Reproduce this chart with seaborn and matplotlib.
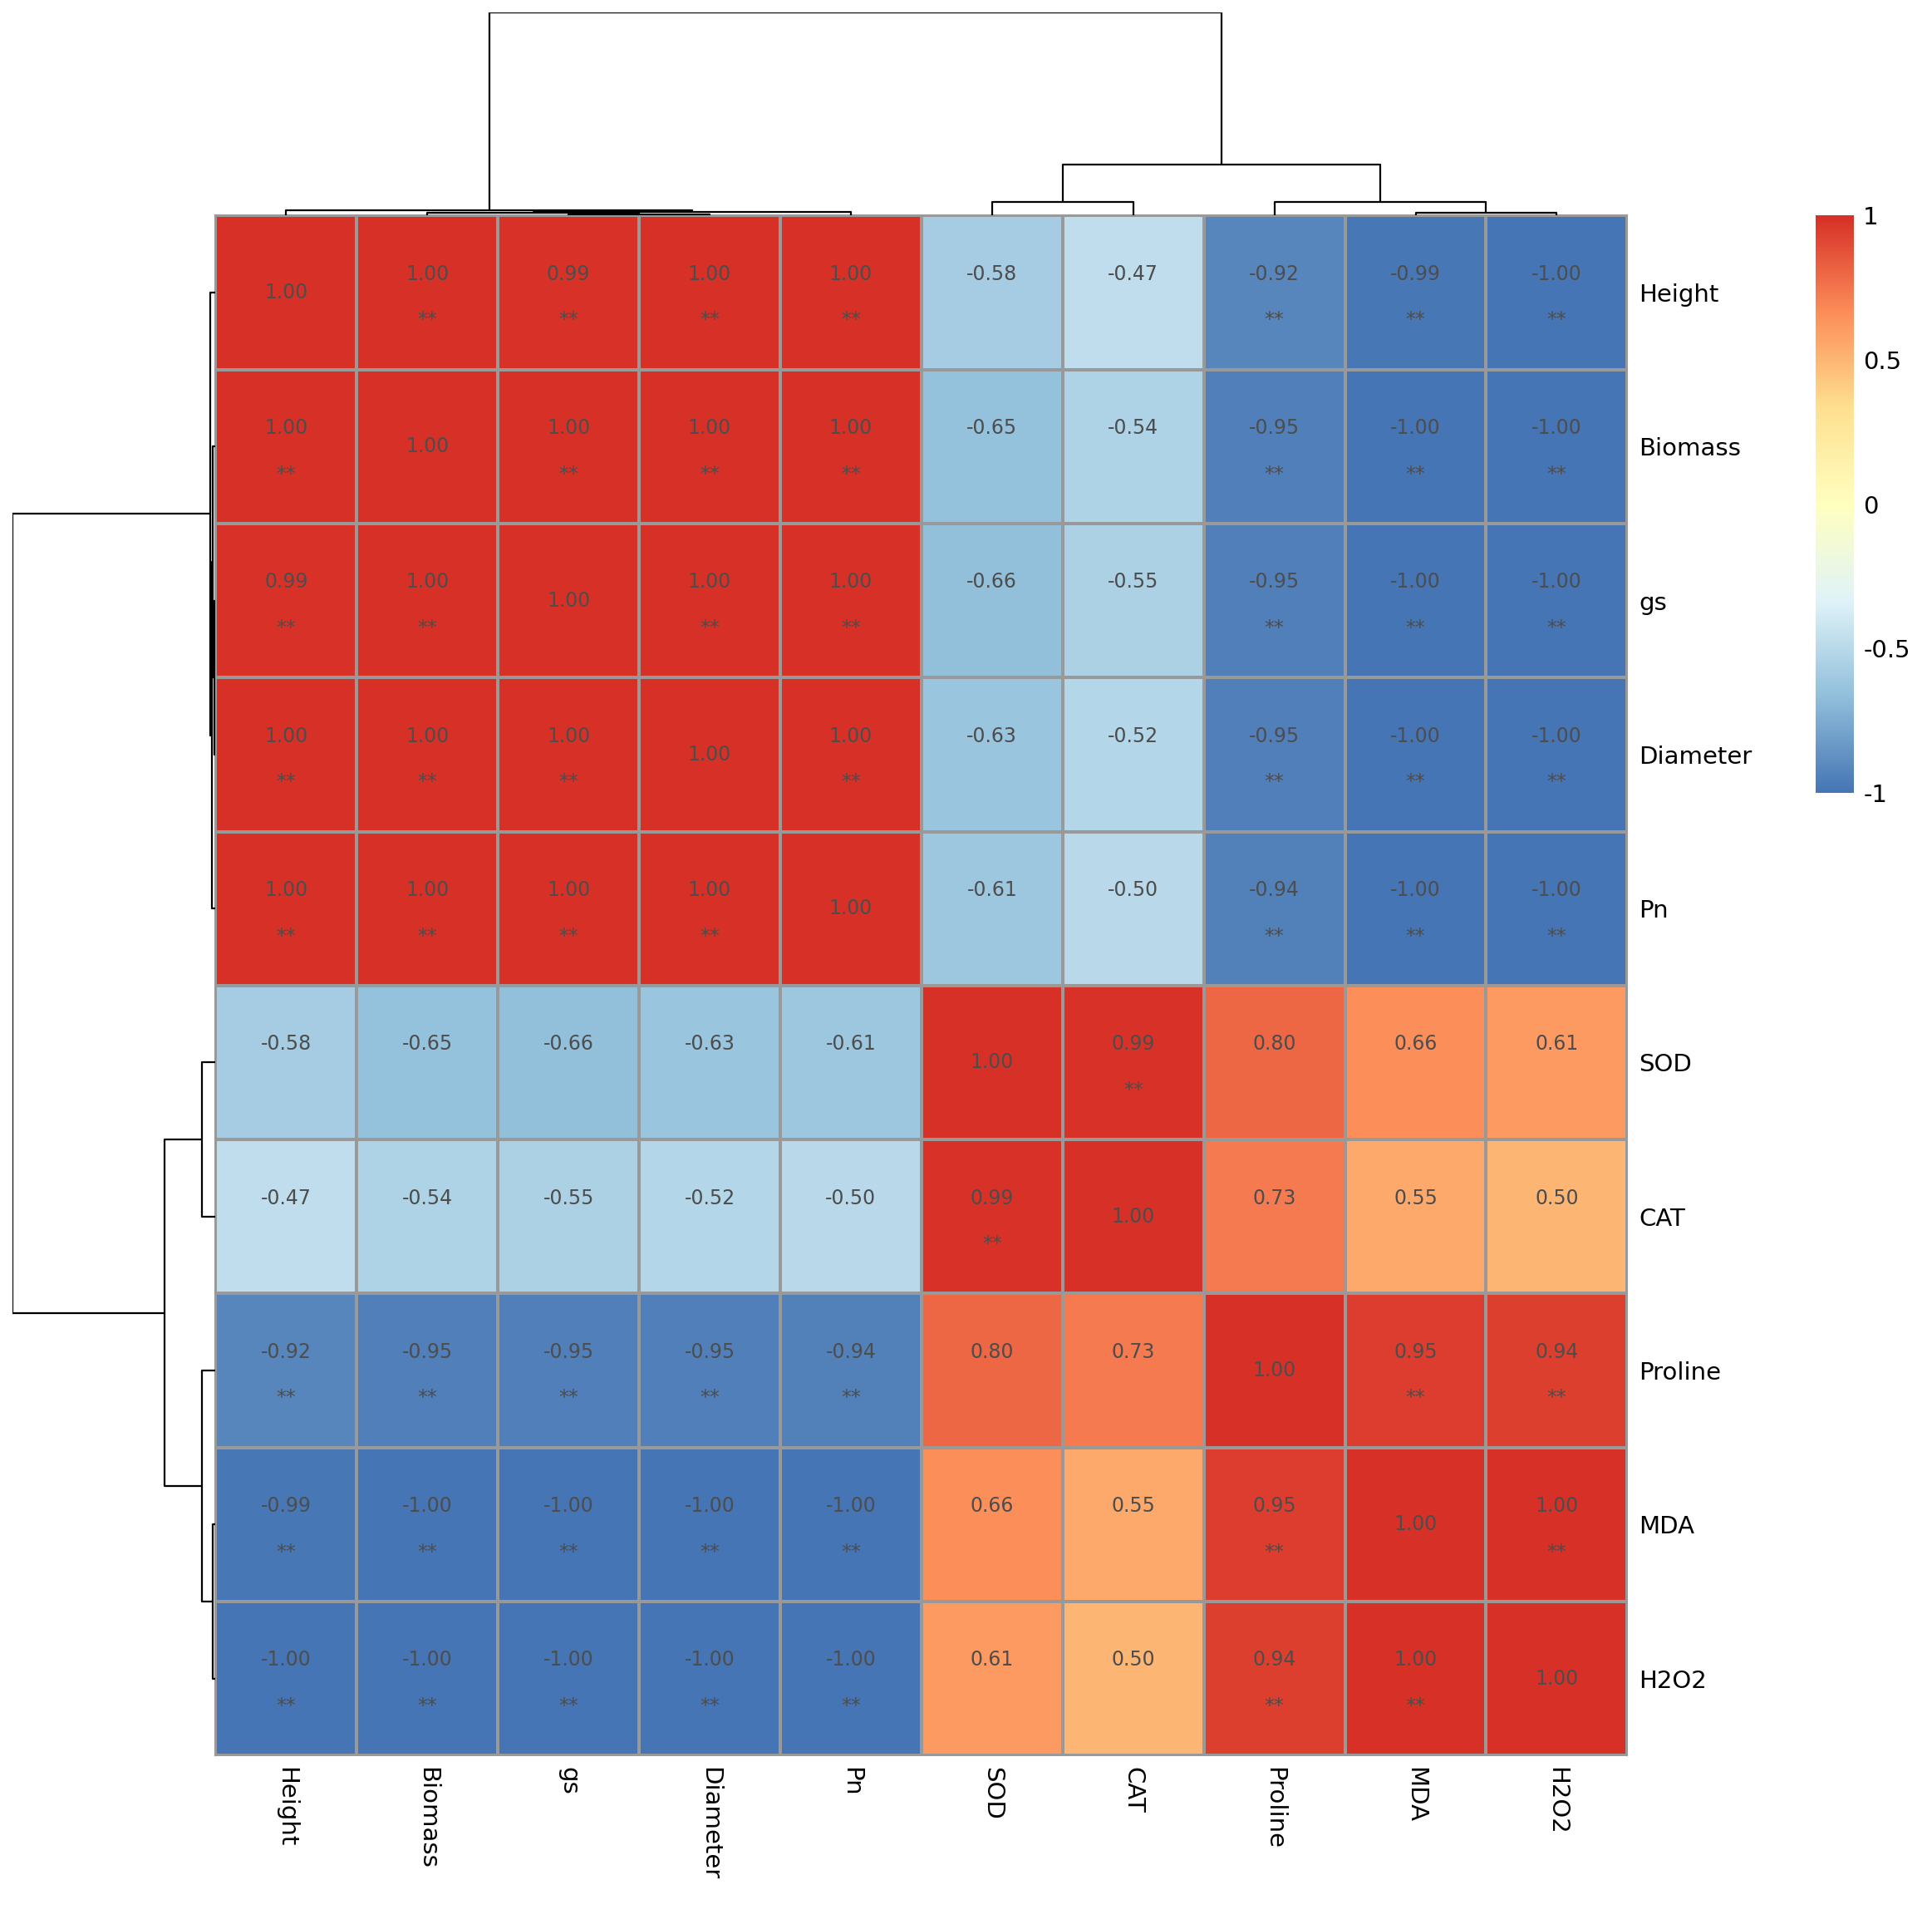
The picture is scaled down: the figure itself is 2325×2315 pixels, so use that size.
import numpy as np
import pandas as pd
import seaborn as sns
import matplotlib
matplotlib.use("Agg")
import matplotlib.pyplot as plt
from matplotlib.colors import LinearSegmentedColormap

labels = ["Height", "Biomass", "gs", "Diameter", "Pn", "SOD", "CAT", "Proline", "MDA", "H2O2"]
r_height   = [1.00, 1.00, 0.99, 1.00, 1.00, -0.58, -0.47, -0.92, -0.99, -1.00]
r_biomass  = [1.00, 1.00, 1.00, 1.00, 1.00, -0.65, -0.54, -0.95, -1.00, -1.00]
r_gs       = [0.99, 1.00, 1.00, 1.00, 1.00, -0.66, -0.55, -0.95, -1.00, -1.00]
r_diameter = [1.00, 1.00, 1.00, 1.00, 1.00, -0.63, -0.52, -0.95, -1.00, -1.00]
r_pn       = [1.00, 1.00, 1.00, 1.00, 1.00, -0.61, -0.50, -0.94, -1.00, -1.00]
r_sod      = [-0.58, -0.65, -0.66, -0.63, -0.61, 1.00, 0.99, 0.80, 0.66, 0.61]
r_cat      = [-0.47, -0.54, -0.55, -0.52, -0.50, 0.99, 1.00, 0.73, 0.55, 0.50]
r_proline  = [-0.92, -0.95, -0.95, -0.95, -0.94, 0.80, 0.73, 1.00, 0.95, 0.94]
r_mda      = [-0.99, -1.00, -1.00, -1.00, -1.00, 0.66, 0.55, 0.95, 1.00, 1.00]
r_h2o2     = [-1.00, -1.00, -1.00, -1.00, -1.00, 0.61, 0.50, 0.94, 1.00, 1.00]
# significance: '**' where marked in the reference
sig_threshold = 0.9
# dendrogram merges (left, right, height); indices >= 10 are earlier merges
merges = [(2, 3, 1), (1, 10, 2), (11, 4, 3), (0, 12, 4), (8, 9, 2),
          (7, 14, 11), (5, 6, 11), (16, 15, 41), (13, 17, 164)]
cbar_ticks = [-1, -0.5, 0, 0.5, 1]
cbar_ticklabels = ["-1", "-0.5", "0", "0.5", "1"]

mat = pd.DataFrame([r_height, r_biomass, r_gs, r_diameter, r_pn, r_sod, r_cat,
                    r_proline, r_mda, r_h2o2], index=labels, columns=labels)
n = len(labels)

cmap = LinearSegmentedColormap.from_list(
    "rdylbu", ["#4575B4", "#91BFDB", "#E0F3F8", "#FFFFBF", "#FEE090", "#FC8D59", "#D73027"])

W, H = 2325, 2315
fig = plt.figure(figsize=(W / 100, H / 100), dpi=100)
sx, sy = 1560.0, 1553.0
def fx(x): return x / sx
def fy(y): return 1 - y / sy

hl, hr, ht, hb = 174, 1314, 174, 1417
ax = fig.add_axes([fx(hl), fy(hb), fx(hr - hl), fy(ht) - fy(hb)])
cax = fig.add_axes([fx(1466), fy(640), fx(31), fy(174) - fy(640)])
sns.heatmap(mat, ax=ax, cmap=cmap, vmin=-1, vmax=1, linewidths=1.5, linecolor="#999999",
            cbar_ax=cax, cbar_kws={"ticks": cbar_ticks})
cax.set_yticklabels(cbar_ticklabels)
cax.tick_params(length=0, labelsize=21, pad=8)
for s in cax.spines.values():
    s.set_visible(False)
for s in ax.spines.values():
    s.set_visible(True); s.set_color("#999999"); s.set_linewidth(1.5)

ax.yaxis.tick_right()
ax.set_yticklabels(labels, rotation=0, fontsize=21)
ax.set_xticklabels(labels, rotation=-90, fontsize=21)
ax.tick_params(length=0, pad=10)
ax.set_xlabel(""); ax.set_ylabel("")

vals = mat.values
for i in range(n):
    for j in range(n):
        v = vals[i, j]
        if i == j:
            ax.text(j + 0.5, i + 0.5, f"{v:.2f}", ha="center", va="center", fontsize=17, color="#4D4D4D")
        else:
            ax.text(j + 0.5, i + 0.38, f"{v:.2f}", ha="center", va="center", fontsize=17, color="#4D4D4D")
            if abs(v) >= sig_threshold:
                ax.text(j + 0.5, i + 0.68, "**", ha="center", va="center", fontsize=17, color="#4D4D4D")

# dendrogram coordinates
def dendro_segments():
    pos = {i: i + 0.5 for i in range(n)}
    hts = {i: 0.0 for i in range(n)}
    segs = []
    for k, (a, b, h) in enumerate(merges):
        node = n + k
        xa, xb = pos[a], pos[b]
        segs.append(([xa, xa, xb, xb], [hts[a], h, h, hts[b]]))
        pos[node] = (xa + xb) / 2
        hts[node] = h
    return segs, max(m[2] for m in merges)

segs, hmax = dendro_segments()
axc = fig.add_axes([fx(hl), fy(174), fx(hr - hl), fy(10) - fy(174)])
for xs, ys in segs:
    axc.plot(xs, ys, color="black", lw=1.6, solid_capstyle="butt")
axc.set_xlim(0, n); axc.set_ylim(0, hmax); axc.axis("off")

axr = fig.add_axes([fx(10), fy(hb), fx(164), fy(ht) - fy(hb)])
for xs, ys in segs:
    axr.plot(ys, xs, color="black", lw=1.6, solid_capstyle="butt")
axr.set_ylim(n, 0); axr.set_xlim(hmax, 0); axr.axis("off")

fig.savefig("out.png", dpi=100, facecolor="white")
